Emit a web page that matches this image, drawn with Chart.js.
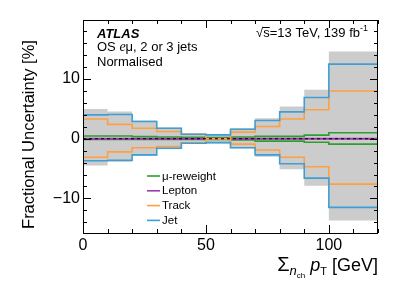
<!DOCTYPE html>
<html>
<head>
<meta charset="utf-8">
<script src="https://cdn.jsdelivr.net/npm/chart.js@4.4.1/dist/chart.umd.min.js"></script>
<style>
  html, body { margin: 0; padding: 0; background: #fff; }
  #c { display: block; }
</style>
</head>
<body>
<canvas id="c" width="399" height="286"></canvas>
<script>
// bin edges in GeV and the per-bin uncertainties in %
const edges = [0, 10, 20, 30, 40, 50, 60, 70, 80, 90, 100, 120];
const totalUp   = [5.0, 4.55, 3.05, 1.9, 0.9, 0.8, 1.75, 3.45, 5.4, 8.2, 14.6];
const totalDown = [-4.5, -3.9, -2.85, -1.75, -0.9, -0.8, -1.6, -3.0, -5.1, -7.9, -13.7];
const jetUp     = [4.0, 4.05, 2.9, 1.75, 0.75, 0.65, 1.6, 3.05, 4.5, 6.9, 12.5];
const jetDown   = [-3.7, -3.6, -2.7, -1.6, -0.75, -0.65, -1.5, -2.7, -4.2, -6.6, -11.5];
const trackUp   = [3.3, 2.4, 1.75, 1.2, 0.7, 0.0, 1.1, 2.05, 3.3, 4.85, 8.0];
const trackDown = [-3.1, -2.2, -1.5, -1.3, -0.7, 0.0, -0.9, -1.9, -3.1, -4.7, -7.6];
const muUp      = [0.45, 0.45, 0.35, 0.3, 0.25, 0.2, 0.3, 0.4, 0.4, 0.6, 1.0];
const muDown    = [-0.1, -0.1, -0.1, -0.1, -0.1, -0.1, -0.2, -0.4, -0.4, -0.6, -0.9];
const lepUp     = [0.05, 0.05, 0.05, 0.05, 0.05, 0.05, 0.05, 0.05, 0.05, 0.05, 0.05];
const lepDown   = [-0.05, -0.05, -0.05, -0.05, -0.05, -0.05, -0.05, -0.05, -0.05, -0.05, -0.05];
const yTickLabels = [-10, 0, 10];
const legendNames = ['\u03bc-reweight', 'Lepton', 'Track', 'Jet'];

const FONT = '"Liberation Sans", Arial, Helvetica, sans-serif';
const GREEN = '#2ca02c', PURPLE = '#a03ab4', ORANGE = '#ffa040', BLUE = '#3d9fd6', GRAY = '#cccccc';

// histogram steps: one point per bin edge, last edge repeats the last bin
function steps(vals) {
  return edges.map((x, i) => ({x, y: vals[Math.min(i, vals.length - 1)]}));
}

function line(data, color, order, extra) {
  return Object.assign({data: steps(data), borderColor: color, borderWidth: 1.6,
    stepped: 'before', pointRadius: 0, fill: false, order}, extra || {});
}

const datasets = [
  line(totalUp, GRAY, 20, {fill: '+1', backgroundColor: GRAY, borderWidth: 0}),
  line(totalDown, GRAY, 21, {borderWidth: 0}),
  line(muUp, GREEN, 9), line(muDown, GREEN, 9),
  line(lepUp, PURPLE, 8), line(lepDown, PURPLE, 8),
  line(trackUp, ORANGE, 7), line(trackDown, ORANGE, 7),
  line(jetUp, BLUE, 6), line(jetDown, BLUE, 6),
  {data: [{x: edges[0], y: 0}, {x: edges[edges.length - 1], y: 0}], borderColor: '#000',
   borderWidth: 1.2, borderDash: [3, 3], pointRadius: 0, fill: false, order: 1}
];

// frame, inside ticks, labels and legend
const decor = {
  id: 'decor',
  afterDraw(chart) {
    const ctx = chart.ctx, a = chart.chartArea;
    const xs = chart.scales.x, ys = chart.scales.y;
    ctx.save();
    ctx.strokeStyle = '#000';
    ctx.lineWidth = 1;
    ctx.strokeRect(a.left + 0.5, a.top + 0.5, a.right - a.left - 1, a.bottom - a.top);
    ctx.beginPath();
    for (let v = 0; v <= 120; v += 10) {
      const px = Math.round(xs.getPixelForValue(v)) + 0.5;
      const len = v % 50 === 0 ? 8 : 4;
      ctx.moveTo(px, a.bottom); ctx.lineTo(px, a.bottom - len);
      ctx.moveTo(px, a.top); ctx.lineTo(px, a.top + len);
    }
    for (let v = -14; v <= 18; v += 2) {
      const py = Math.round(ys.getPixelForValue(v)) + 0.5;
      const len = v % 10 === 0 ? 8 : 4;
      ctx.moveTo(a.left, py); ctx.lineTo(a.left + len, py);
      ctx.moveTo(a.right, py); ctx.lineTo(a.right - len, py);
    }
    ctx.stroke();

    ctx.fillStyle = '#000';
    ctx.textBaseline = 'alphabetic';
    // ATLAS label block
    ctx.font = 'italic bold 13px ' + FONT;
    ctx.fillText('ATLAS', 97, 38);
    ctx.font = '13px ' + FONT;
    let x = 97;
    ctx.fillText('OS ', x, 51); x += ctx.measureText('OS ').width;
    ctx.font = 'italic 14px "Liberation Serif", serif';
    ctx.fillText('e', x, 51); x += ctx.measureText('e').width;
    ctx.font = '13px ' + FONT;
    ctx.fillText('\u03bc, 2 or 3 jets', x, 51);
    ctx.fillText('Normalised', 97, 66);

    // energy / lumi, right aligned
    ctx.font = '9px ' + FONT;
    const sup = '-1', supW = ctx.measureText(sup).width;
    ctx.font = '13px ' + FONT;
    const main = 's=13 TeV, 139 fb', mainW = ctx.measureText(main).width;
    const rootW = ctx.measureText('\u221a').width;
    let rx = 368 - supW - mainW - rootW;
    ctx.fillText('\u221a', rx, 37);
    ctx.fillText(main, rx + rootW, 37);
    ctx.beginPath();
    ctx.moveTo(rx + rootW - 0.5, 27.5); ctx.lineTo(rx + rootW + ctx.measureText('s').width, 27.5);
    ctx.stroke();
    ctx.font = '9px ' + FONT;
    ctx.fillText(sup, 368 - supW, 31);

    // legend
    const cols = [GREEN, PURPLE, ORANGE, BLUE];
    const ly = [176, 190.8, 205.6, 220.4];
    ctx.font = '11.5px ' + FONT;
    ctx.textBaseline = 'middle';
    legendNames.forEach((n, i) => {
      ctx.strokeStyle = cols[i];
      ctx.lineWidth = 1.6;
      ctx.beginPath();
      ctx.moveTo(147, ly[i]); ctx.lineTo(160, ly[i]);
      ctx.stroke();
      ctx.fillText(n, 162, ly[i] + 0.5);
    });

    // y title
    ctx.save();
    ctx.translate(34, (a.top + a.bottom) / 2 + 8);
    ctx.rotate(-Math.PI / 2);
    ctx.font = '16.5px ' + FONT;
    ctx.textAlign = 'center';
    ctx.textBaseline = 'alphabetic';
    ctx.fillText('Fractional Uncertainty [%]', 0, 0);
    ctx.restore();

    // x title: Sigma_{n_ch} p_T [GeV], right aligned at the frame
    ctx.textBaseline = 'alphabetic';
    const parts = [
      ['\u03a3', '20px ' + FONT, 0],
      ['n', 'italic 13px ' + FONT, 4],
      ['ch', '8px ' + FONT, 7],
      [' ', '18px ' + FONT, 0],
      ['p', 'italic 18px ' + FONT, 0],
      ['T', '11px ' + FONT, 4],
      [' [GeV]', '18px ' + FONT, 0]
    ];
    let tw = 0;
    parts.forEach(p => { ctx.font = p[1]; tw += ctx.measureText(p[0]).width; });
    let tx = a.right - tw;
    parts.forEach(p => {
      ctx.font = p[1];
      ctx.fillText(p[0], tx, 271 + p[2]);
      tx += ctx.measureText(p[0]).width;
    });
    ctx.restore();
  }
};

Chart.defaults.font.family = FONT;
new Chart(document.getElementById('c'), {
  type: 'line',
  data: {datasets},
  options: {
    responsive: false,
    animation: false,
    devicePixelRatio: 1,
    layout: {padding: {top: 20, right: 21, left: 0, bottom: 0}},
    plugins: {legend: {display: false}, tooltip: {enabled: false}},
    scales: {
      x: {
        type: 'linear', min: 0, max: 120,
        grid: {display: false, drawTicks: false}, border: {display: false},
        ticks: {stepSize: 50, includeBounds: false, color: '#000', font: {size: 16}, padding: 3, maxRotation: 0},
        afterFit(s) { s.height = 53; }
      },
      y: {
        type: 'linear', min: -15.8, max: 19.9,
        grid: {display: false, drawTicks: false}, border: {display: false},
        ticks: {stepSize: 10, includeBounds: false, color: '#000', font: {size: 16}, padding: 3,
          callback: v => yTickLabels.includes(v) ? String(v).replace('-', '\u2212') : ''},
        afterFit(s) { s.width = 83; }
      }
    }
  },
  plugins: [decor]
});
</script>
</body>
</html>
